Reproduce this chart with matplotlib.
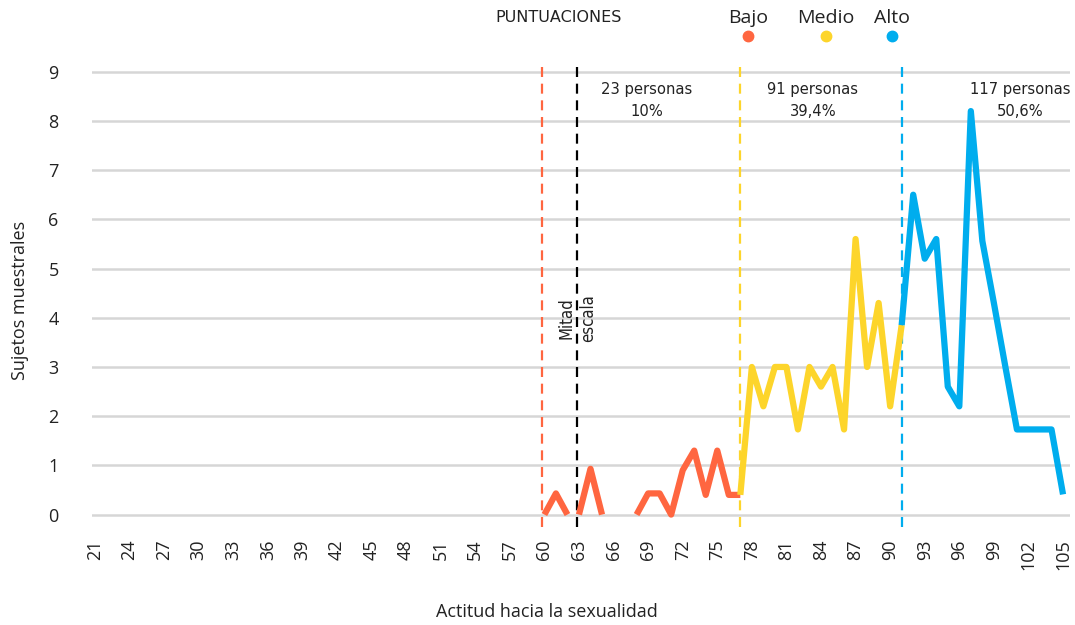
import numpy as np
import matplotlib.pyplot as plt
from matplotlib.lines import Line2D

plt.rcParams['font.family'] = ['Open Sans', 'DejaVu Sans']

# puntuaciones (x) y sujetos (y) por tramo; nan = corte de la linea
bajo_x = [60, 61, 62, np.nan, 63, 64, 65, np.nan, 68, 69, 70, 71, 72, 73, 74, 75, 76, 77]
bajo_y = [0, 0.43, 0, np.nan, 0, 0.93, 0, np.nan, 0, 0.43, 0.43, 0, 0.9, 1.3, 0.4, 1.3, 0.4, 0.4]

medio_x = [77, 78, 79, 80, 81, 82, 83, 84, 85, 86, 87, 88, 89, 90, 91]
medio_y = [0.4, 3.0, 2.2, 3.0, 3.0, 1.73, 3.0, 2.6, 3.0, 1.73, 5.6, 3.0, 4.3, 2.2, 3.85]

alto_x = [91, 92, 93, 94, 95, 96, 97, 98, 99, 100, 101, 102, 103, 104, 105]
alto_y = [3.85, 6.5, 5.2, 5.6, 2.6, 2.2, 8.2, 5.56, 4.3, 3.0, 1.73, 1.73, 1.73, 1.73, 0.41]

cortes = [59.8, 62.8, 77, 91]
grupos = ['Bajo', 'Medio', 'Alto']
personas = ['23 personas\n10%', '91 personas\n39,4%', '117 personas\n50,6%']

c_bajo = '#ff6640'
c_medio = '#fdd52b'
c_alto = '#00adee'
colores = [c_bajo, c_medio, c_alto]

fig = plt.figure(figsize=(10.75, 6.25), dpi=100)
ax = fig.add_axes([0.0856, 0.157, 0.9097, 0.744])

ax.set_xlim(20.75, 105.6)
ax.set_ylim(-0.25, 9.2)
ax.set_yticks(range(0, 10))
ax.set_xticks(range(21, 106, 3))
ax.grid(axis='y', color='#d6d6d6', linewidth=1.8)
ax.set_axisbelow(True)
for s in ax.spines.values():
    s.set_visible(False)
ax.tick_params(length=0, labelsize=13, colors='#222222')
ax.tick_params(axis='y', pad=24)
ax.tick_params(axis='x', pad=9, labelrotation=90)

# lineas de corte
for xc, col in zip(cortes, [c_bajo, 'black', c_medio, c_alto]):
    ax.axvline(xc, color=col, linewidth=1.6, linestyle=(0, (4.5, 3)), zorder=1)

for xs, ys, col, z in [(bajo_x, bajo_y, c_bajo, 3), (medio_x, medio_y, c_medio, 3),
                       (alto_x, alto_y, c_alto, 4)]:
    ax.plot(xs, ys, color=col, linewidth=4.5, solid_joinstyle='round',
            solid_capstyle='butt', zorder=z)

cond = dict(family='DejaVu Sans', fontstretch='condensed', color='#222222')
ax.text(62.85, 4.0, 'Mitad\nescala', rotation=90, ha='center', va='center',
        fontsize=12, **cond)

for xp, t in zip([68.9, 83.3, 101.3], personas):
    ax.text(xp, 8.8, t, ha='center', va='top', fontsize=11.8, linespacing=1.65, **cond)

# encabezado
fig.text(0.520, 0.972, 'PUNTUACIONES', ha='center', va='center', fontsize=11.5,
         family='DejaVu Sans', color='#222222')
for xf, g, col in zip([0.696, 0.768, 0.830], grupos, colores):
    fig.text(xf, 0.971, g, ha='center', va='center', fontsize=14, color='#222222')
    fig.add_artist(Line2D([xf], [0.942], transform=fig.transFigure, marker='o',
                          markersize=7.5, color=col, linestyle='none'))

fig.text(0.019, 0.52, 'Sujetos muestrales', rotation=90, ha='center', va='center',
         fontsize=13, color='#222222')
fig.text(0.509, 0.021, 'Actitud hacia la sexualidad', ha='center', va='center',
         fontsize=13, color='#222222')

fig.savefig('out.png', dpi=100)
